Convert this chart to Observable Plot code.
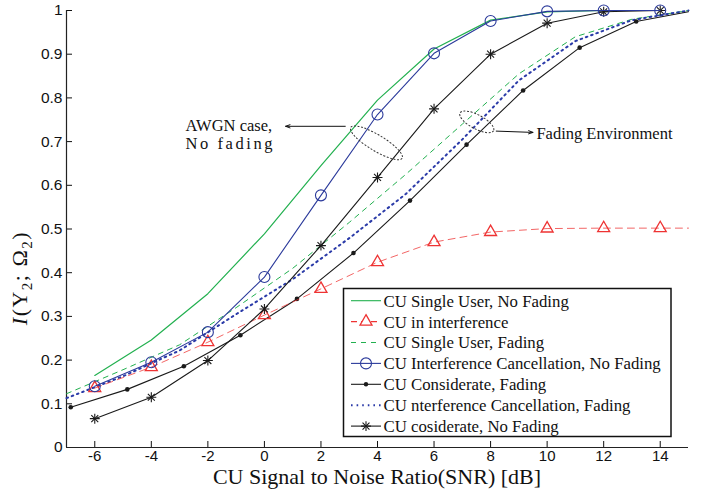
<!DOCTYPE html>
<html><head><meta charset="utf-8">
<script src="https://cdn.jsdelivr.net/npm/d3@7"></script>
<script src="https://cdn.jsdelivr.net/npm/@observablehq/plot@0.6"></script>
<style>body{margin:0;background:#fff}</style>
</head><body><div id="chart"></div>
<script>
// ---- data ----
const snrEven = [-6, -4, -2, 0, 2, 4, 6, 8, 10, 12, 14];
const singleUserNoFading = [0.165, 0.246, 0.352, 0.489, 0.645, 0.795, 0.912, 0.978, 0.997, 1.0, 1.0];
const icNoFading = [0.140, 0.195, 0.264, 0.390, 0.577, 0.762, 0.902, 0.976, 0.998, 1.0, 1.0];
const considerateNoFading = [0.066, 0.115, 0.199, 0.317, 0.462, 0.618, 0.775, 0.900, 0.971, 0.997, 1.0];
const snrInterference = [-6, -4, -2, 0, 2, 4, 6, 8, 10, 12, 14, 15];
const inInterference = [0.136, 0.184, 0.241, 0.303, 0.363, 0.424, 0.470, 0.493, 0.501, 0.502, 0.502, 0.502];
const snrFading = [-7, -5, -3, -1, 1, 3, 5, 7, 9, 11, 13, 15];
const singleUserFading = [0.123, 0.178, 0.235, 0.320, 0.410, 0.515, 0.625, 0.740, 0.855, 0.940, 0.980, 1.0];
const icFading = [0.113, 0.163, 0.222, 0.305, 0.385, 0.479, 0.580, 0.705, 0.840, 0.930, 0.978, 1.0];
const snrConsiderate = [-6.85, -4.85, -2.85, -0.85, 1.15, 3.15, 5.15, 7.15, 9.15, 11.15, 13.15, 15];
const considerateFading = [0.092, 0.133, 0.186, 0.257, 0.340, 0.445, 0.565, 0.693, 0.817, 0.915, 0.975, 0.997];

const xTicks = [-6, -4, -2, 0, 2, 4, 6, 8, 10, 12, 14];
const yTicks = [0, 0.1, 0.2, 0.3, 0.4, 0.5, 0.6, 0.7, 0.8, 0.9, 1];
const xLabel = "CU Signal to Noise Ratio(SNR) [dB]";
const legendLabels = [
  "CU Single User, No Fading",
  "CU in interference",
  "CU Single User, Fading",
  "CU Interference Cancellation, No Fading",
  "CU Considerate, Fading",
  "CU nterference Cancellation, Fading",
  "CU cosiderate, No Fading"
];
const annotationTexts = [
  {x: -2.79, y: 0.724, text: "AWGN case,"},
  {x: -2.79, y: 0.683, text: "No fading"},
  {x: 9.62, y: 0.707, text: "Fading Environment"}
];
const annotationArrows = [
  {x1: 2.86, y1: 0.735, x2: 0.75, y2: 0.735},
  {x1: 8.2, y1: 0.724, x2: 9.5, y2: 0.721}
];
const annotationEllipses = [
  {x: 3.98, y: 0.696, rx: 30, ry: 8, angle: 31},
  {x: 7.53, y: 0.744, rx: 19, ry: 7, angle: 28}
];

const zip = (xs, ys) => xs.map((x, i) => ({x, y: ys[i]}));

const GREEN = "#22b04f", RED = "#ee3333", BLUE = "#2b3a9b", DBLUE = "#2a3aa8", BLACK = "#1a1a1a";
const SERIF = "'Liberation Serif', 'Times New Roman', serif";

function ellipseMark(data) {
  return (index, scales) => {
    const g = d3.create("svg:g");
    for (const e of data) {
      g.append("ellipse").attr("rx", e.rx).attr("ry", e.ry)
        .attr("transform", `translate(${scales.x(e.x)},${scales.y(e.y)}) rotate(${e.angle})`)
        .attr("fill", "none").attr("stroke", "#333").attr("stroke-width", 1)
        .attr("stroke-dasharray", "2,1.6");
    }
    return g.node();
  };
}

const legendStyles = [
  {stroke: GREEN, dash: null, sym: null},
  {stroke: RED, dash: "6,4", sym: "triangle"},
  {stroke: GREEN, dash: "5,5", sym: null},
  {stroke: BLUE, dash: null, sym: "circle"},
  {stroke: BLACK, dash: null, sym: "dot"},
  {stroke: DBLUE, dash: "1.6,4", sym: null, width: 2},
  {stroke: BLACK, dash: null, sym: "star"}
];

function legendMark() {
  return () => {
    const g = d3.create("svg:g").attr("text-anchor", "start");
    const x0 = 343.5, y0 = 288.5, w = 327.5, h = 148;
    g.append("rect").attr("x", x0).attr("y", y0).attr("width", w).attr("height", h)
      .attr("fill", "white").attr("stroke", "#111").attr("stroke-width", 1.5);
    legendLabels.forEach((lab, i) => {
      const st = legendStyles[i];
      const cy = 300.7 + i * 20.9;
      const ln = g.append("line").attr("x1", 351).attr("x2", 381).attr("y1", cy).attr("y2", cy)
        .attr("stroke", st.stroke).attr("stroke-width", st.width || 1.1);
      if (st.dash) ln.attr("stroke-dasharray", st.dash);
      const cx = 366;
      if (st.sym === "triangle") {
        g.append("path").attr("d", d3.symbol(d3.symbolTriangle, 62)()).attr("transform", `translate(${cx},${cy})`)
          .attr("fill", "white").attr("stroke", RED).attr("stroke-width", 1.3);
      } else if (st.sym === "circle") {
        g.append("circle").attr("cx", cx).attr("cy", cy).attr("r", 5.5).attr("fill", "none").attr("stroke", BLUE).attr("stroke-width", 1.1);
      } else if (st.sym === "dot") {
        g.append("circle").attr("cx", cx).attr("cy", cy).attr("r", 2.2).attr("fill", BLACK);
      } else if (st.sym === "star") {
        g.append("path").attr("d", d3.symbol(d3.symbolPlus, 34)()).attr("transform", `translate(${cx},${cy})`).attr("fill", "none").attr("stroke", BLACK).attr("stroke-width", 1.1);
        g.append("path").attr("d", d3.symbol(d3.symbolTimes, 33)()).attr("transform", `translate(${cx},${cy})`).attr("fill", "none").attr("stroke", BLACK).attr("stroke-width", 1.1);
      }
      g.append("text").attr("x", 383.5).attr("y", cy + 5.9).attr("text-anchor", "start").text(lab)
        .style("font-family", SERIF).style("font-size", "16.8px").attr("fill", "#111");
    });
    return g.node();
  };
}

function axisTitles() {
  return (index, scales, values, dim) => {
    const g = d3.create("svg:g");
    const cx = (dim.marginLeft + dim.width - dim.marginRight) / 2;
    g.append("text").attr("x", cx).attr("y", 484).attr("text-anchor", "middle")
      .style("font-family", SERIF).style("font-size", "22px").attr("fill", "#111").text(xLabel);
    const cyMid = 278;
    const t = g.append("text").attr("transform", `translate(27,${cyMid}) rotate(-90)`).attr("text-anchor", "middle")
      .style("font-family", SERIF).style("font-size", "22px").attr("fill", "#111").attr("letter-spacing", 1.5);
    t.append("tspan").attr("font-style", "italic").text("I");
    t.append("tspan").text("(Y");
    t.append("tspan").style("font-size", "15px").attr("dy", 5).text("2");
    t.append("tspan").attr("dy", -5).text("; Ω");
    t.append("tspan").style("font-size", "15px").attr("dy", 5).text("2");
    t.append("tspan").attr("dy", -5).text(")");
    return g.node();
  };
}

const chart = Plot.plot({
  width: 702,
  height: 490,
  marginLeft: 66,
  marginRight: 14,
  marginTop: 10,
  marginBottom: 43,
  x: {domain: [-7, 15]},
  y: {domain: [0, 1]},
  style: {fontFamily: "'Liberation Sans', Arial, sans-serif", fontSize: "15px", background: "white", color: "#111"},
  marks: [
    Plot.axisX(xTicks, {anchor: "bottom", tickSize: -6, tickPadding: 9, label: null, fontSize: 15, tickFormat: d => String(d)}),
    Plot.axisY(yTicks, {anchor: "left", tickSize: -6, tickPadding: 10, label: null, fontSize: 15.5, tickFormat: d => String(d)}),
    Plot.ruleY([0], {stroke: "#222", strokeWidth: 1.2}),
    Plot.ruleX([-7], {stroke: "#222", strokeWidth: 1.2}),
    // lines
    Plot.line(zip(snrFading, singleUserFading), {x: "x", y: "y", stroke: GREEN, strokeWidth: 1, strokeDasharray: "5,5"}),
    Plot.line(zip(snrFading, icFading), {x: "x", y: "y", stroke: DBLUE, strokeWidth: 2, strokeDasharray: "1.6,4"}),
    Plot.line(zip(snrConsiderate, considerateFading), {x: "x", y: "y", stroke: BLACK, strokeWidth: 1.1}),
    Plot.dot(zip(snrConsiderate, considerateFading).slice(0, 11), {x: "x", y: "y", r: 2.3, fill: BLACK}),
    Plot.line(zip(snrInterference, inInterference), {x: "x", y: "y", stroke: RED, strokeWidth: 1, strokeDasharray: "7,5", strokeOpacity: 0.75}),
    Plot.dot(zip(snrEven, inInterference.slice(0, 11)), {x: "x", y: "y", symbol: "triangle", r: 4.45, stroke: RED, strokeWidth: 1.3, fill: "none"}),
    Plot.line(zip(snrEven, singleUserNoFading), {x: "x", y: "y", stroke: GREEN, strokeWidth: 1.2}),
    Plot.line(zip(snrEven, considerateNoFading), {x: "x", y: "y", stroke: BLACK, strokeWidth: 1.1}),
    Plot.dot(zip(snrEven, considerateNoFading), {x: "x", y: "y", symbol: "plus", r: 3.3, stroke: BLACK, strokeWidth: 1.1}),
    Plot.dot(zip(snrEven, considerateNoFading), {x: "x", y: "y", symbol: "times", r: 3.25, stroke: BLACK, strokeWidth: 1.1}),
    Plot.line(zip(snrEven, icNoFading), {x: "x", y: "y", stroke: BLUE, strokeWidth: 1.1}),
    Plot.dot(zip(snrEven, icNoFading), {x: "x", y: "y", r: 5.5, stroke: BLUE, strokeWidth: 1.1, fill: "none"}),
    // annotations
    ellipseMark(annotationEllipses),
    Plot.arrow(annotationArrows, {x1: "x1", y1: "y1", x2: "x2", y2: "y2", stroke: "#111", strokeWidth: 1, headLength: 7, headAngle: 40}),
    Plot.text(annotationTexts, {x: "x", y: "y", text: "text", textAnchor: "start", lineAnchor: "bottom", fontFamily: SERIF, fontSize: 16.5, fill: "#111"}),
    legendMark(),
    axisTitles()
  ]
});
document.getElementById("chart").appendChild(chart);
// stretch "No fading" to the width of the line above it, as in the reference
d3.select(chart).selectAll("text").filter(function(){ return this.textContent === "No fading"; })
  .attr("textLength", 87).attr("lengthAdjust", "spacing");
</script>
</body></html>
